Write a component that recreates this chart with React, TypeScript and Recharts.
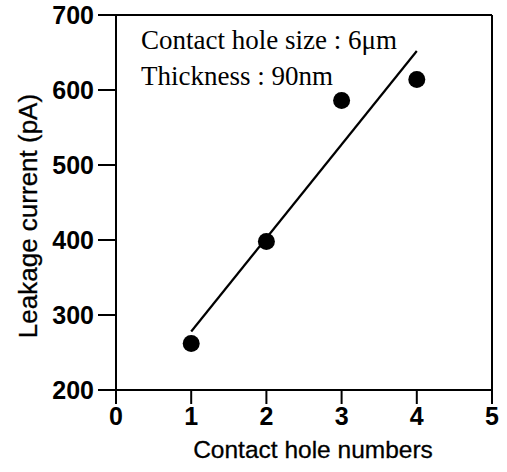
import React from "react";
import { ScatterChart, Scatter, XAxis, YAxis, ReferenceLine, Customized } from "recharts";

const holeNumbers = [1, 2, 3, 4];
const leakage = [262, 398, 586, 614];
const fitX = [1, 4];
const fitY = [278, 652];
const xTicks = [0, 1, 2, 3, 4, 5];
const yTicks = [200, 300, 400, 500, 600, 700];
const note1 = "Contact hole size : 6\u03bcm";
const note2 = "Thickness : 90nm";
const xTitle = "Contact hole numbers";
const yTitle = "Leakage current (pA)";

const points = holeNumbers.map((x, i) => ({ x, y: leakage[i] }));
const fit = fitX.map((x, i) => ({ x, y: fitY[i] }));

const tickFont = { fontFamily: "Liberation Sans, Arial, sans-serif", fontWeight: 700, fontSize: 25, fill: "#000" };

const Dot = (props: any) => <circle cx={props.cx} cy={props.cy} r={8.5} fill="#000" />;
const NoDot = () => <g />;

const Labels = () => (
  <g>
    <text x={141} y={49} fontFamily="Liberation Serif, Times New Roman, serif" fontSize={27} fill="#000">{note1}</text>
    <text x={141} y={85} fontFamily="Liberation Serif, Times New Roman, serif" fontSize={27} fill="#000">{note2}</text>
    <text x={313} y={458} textAnchor="middle" fontFamily="Liberation Sans, Arial, sans-serif" fontSize={24.5} fill="#000" stroke="#000" strokeWidth={0.3}>{xTitle}</text>
    <text x={0} y={0} transform="translate(37,216) rotate(-90)" textAnchor="middle" fontFamily="Liberation Sans, Arial, sans-serif" fontSize={26} fill="#000" stroke="#000" strokeWidth={0.3}>{yTitle}</text>
  </g>
);

export default function App() {
  return (
    <div style={{ position: "absolute", left: 0, top: 0, background: "#fff" }}>
      <ScatterChart width={507} height={472} margin={{ top: 15, right: 15, left: 0, bottom: 0 }}>
        <XAxis
          type="number"
          dataKey="x"
          domain={[0, 5]}
          ticks={xTicks}
          interval={0}
          height={82}
          tickSize={14}
          tickMargin={3}
          axisLine={{ stroke: "#000", strokeWidth: 2 }}
          tickLine={{ stroke: "#000", strokeWidth: 2 }}
          tick={tickFont}
        />
        <YAxis
          type="number"
          dataKey="y"
          domain={[200, 700]}
          ticks={yTicks}
          interval={0}
          width={116}
          tickSize={18}
          tickMargin={4}
          axisLine={{ stroke: "#000", strokeWidth: 2 }}
          tickLine={{ stroke: "#000", strokeWidth: 2 }}
          tick={tickFont}
        />
        <ReferenceLine y={700} stroke="#000" strokeWidth={2} />
        <ReferenceLine x={5} stroke="#000" strokeWidth={2} />
        <Scatter data={fit} line={{ stroke: "#000", strokeWidth: 2.2 }} shape={NoDot} isAnimationActive={false} />
        <Scatter data={points} shape={Dot} isAnimationActive={false} />
        <Customized component={Labels} />
      </ScatterChart>
    </div>
  );
}
